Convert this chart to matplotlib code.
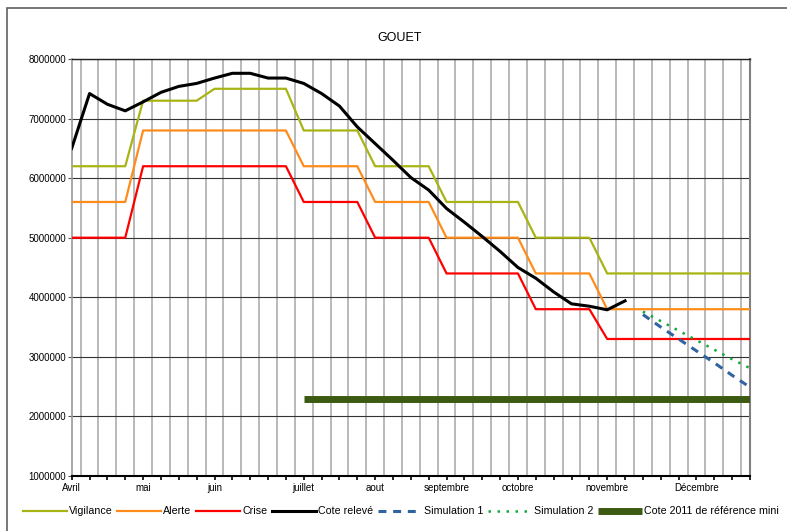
import matplotlib.pyplot as plt
import matplotlib.patches as mpatches
import numpy as np

# weekly points, index 0 = beginning of April
weeks = np.arange(39)
month_pos = [0, 4, 8, 13, 17, 21, 25, 30, 35]
month_labels = ['Avril', 'mai', 'juin', 'juillet', 'aout', 'septembre',
                'octobre', 'novembre', 'Décembre']

vigilance = ([6.2e6] * 4 + [7.3e6] * 4 + [7.5e6] * 5 + [6.8e6] * 4 + [6.2e6] * 4
             + [5.6e6] * 5 + [5.0e6] * 4 + [4.4e6] * 9)
alerte = ([5.6e6] * 4 + [6.8e6] * 9 + [6.2e6] * 4 + [5.6e6] * 4
          + [5.0e6] * 5 + [4.4e6] * 4 + [3.8e6] * 9)
crise = ([5.0e6] * 4 + [6.2e6] * 9 + [5.6e6] * 4 + [5.0e6] * 4
         + [4.4e6] * 5 + [3.8e6] * 4 + [3.3e6] * 9)

cote_releve = [6.50e6, 7.42e6, 7.24e6, 7.13e6, 7.28e6, 7.44e6, 7.54e6, 7.59e6,
               7.68e6, 7.76e6, 7.76e6, 7.68e6, 7.68e6, 7.59e6, 7.42e6, 7.21e6,
               6.86e6, 6.58e6, 6.30e6, 6.01e6, 5.80e6, 5.49e6, 5.26e6, 5.02e6,
               4.77e6, 4.50e6, 4.32e6, 4.09e6, 3.89e6, 3.85e6, 3.79e6, 3.94e6]

sim_weeks = np.arange(32, 39)
simulation1 = [3.71e6, 3.50e6, 3.30e6, 3.10e6, 2.90e6, 2.69e6, 2.49e6]
simulation2 = [3.76e6, 3.60e6, 3.44e6, 3.28e6, 3.12e6, 2.96e6, 2.81e6]

ref_weeks = np.arange(13, 39)
cote_2011 = [2.3e6] * len(ref_weeks)

yticks = [1e6, 2e6, 3e6, 4e6, 5e6, 6e6, 7e6, 8e6]

plt.rcParams['font.family'] = 'Liberation Sans'

fig = plt.figure(figsize=(7.87, 5.31), dpi=100)
ax = fig.add_axes([71.7 / 787, 1 - 476 / 531, (750 - 71.7) / 787, (476 - 59) / 531])

# outer chart frame (cropped on right and bottom)
fig.patches.append(mpatches.Rectangle((7 / 787, -0.05), 1.2, 1 - 8 / 531 + 0.05,
                                      transform=fig.transFigure, fill=False,
                                      edgecolor='#606060', lw=1.2, zorder=0))

# vertical gridlines between week points
for g in np.arange(0.5, 38, 1):
    ax.axvline(g, color='#b3b3b3', lw=1.3, zorder=1)
for y in yticks[1:]:
    ax.axhline(y, color='#333333', lw=0.8, zorder=1)

ax.plot(weeks, vigilance, color='#a8b414', lw=1.6, label='Vigilance', zorder=3)
ax.plot(weeks, alerte, color='#ff8c1a', lw=1.6, label='Alerte', zorder=3)
ax.plot(weeks, crise, color='#ff0000', lw=1.6, label='Crise', zorder=3)
ax.plot(weeks[:len(cote_releve)], cote_releve, color='black', lw=2.2,
        label='Cote relevé', zorder=4)
ax.plot(sim_weeks, simulation1, color='#2f64a0', lw=2.2, ls=(0, (2.6, 2.2)),
        label='Simulation 1', zorder=4)
ax.plot(sim_weeks, simulation2, color='#10aa3a', lw=1.8, ls=(0, (1, 2.6)),
        label='Simulation 2', zorder=4)
ax.plot(ref_weeks, cote_2011, color='#3d5a13', lw=5, solid_capstyle='butt',
        label='Cote 2011 de référence mini', zorder=3)

ax.set_xlim(0, 38)
ax.set_ylim(1e6, 8e6)
ax.set_yticks(yticks)
ax.set_yticklabels(['%d' % v for v in yticks], fontsize=7)
ax.set_xticks(weeks, minor=True)
ax.set_xticks(month_pos)
ax.set_xticklabels(month_labels, fontsize=7)
ax.tick_params(axis='x', which='both', direction='out', length=3, width=1.2,
               color='black', pad=2)
ax.tick_params(axis='y', direction='out', length=3, width=0.8, color='#555555', pad=1)

ax.spines['top'].set_color('#222222')
ax.spines['top'].set_linewidth(1)
ax.spines['right'].set_color('#808080')
ax.spines['right'].set_linewidth(1.5)
ax.spines['left'].set_color('#999999')
ax.spines['left'].set_linewidth(1.2)
ax.spines['bottom'].set_color('black')
ax.spines['bottom'].set_linewidth(1.5)

fig.text(400 / 787, 1 - 38 / 531, 'GOUET', ha='center', va='center', fontsize=9)

ax.legend(loc='center left', bbox_to_anchor=(-49 / 678, -0.085), ncol=7,
          frameon=False, fontsize=7.7, handlelength=4.1, handletextpad=0.22,
          columnspacing=0.42, borderaxespad=0, borderpad=0)

fig.savefig('out.png', dpi=100)
